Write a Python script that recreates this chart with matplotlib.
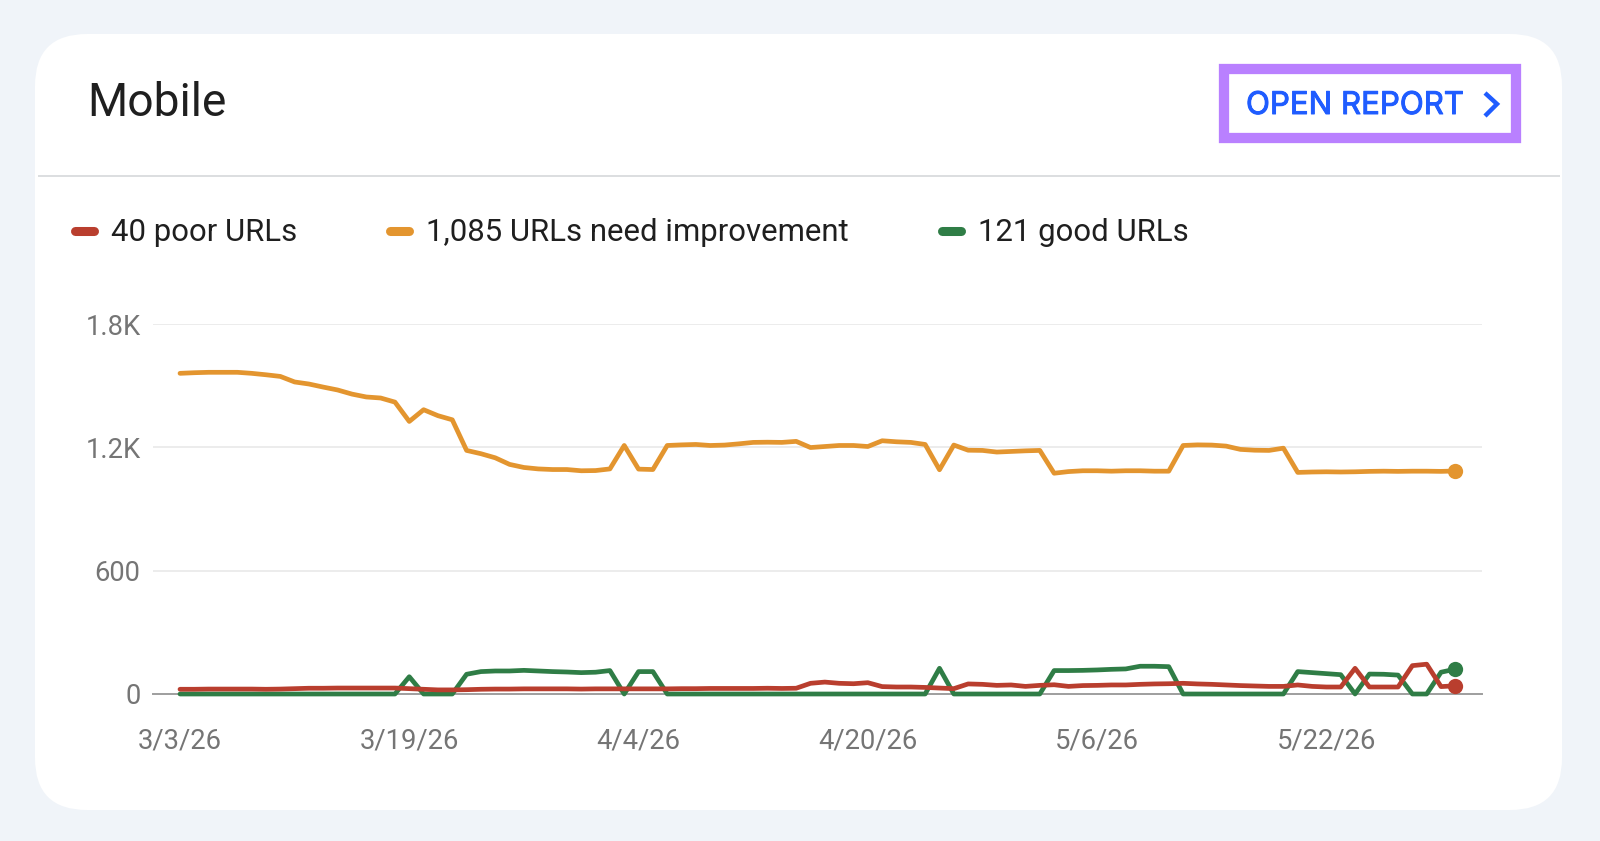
import matplotlib
matplotlib.use("Agg")
import matplotlib.pyplot as plt
import matplotlib.patheffects as pe
import pandas as pd
from matplotlib.patches import FancyBboxPatch, Rectangle

title = "Mobile"
button_label = "OPEN REPORT"
dates = pd.date_range("2026-03-03", periods=90)
tick_dates = pd.to_datetime(["2026-03-03", "2026-03-19", "2026-04-04", "2026-04-20", "2026-05-06", "2026-05-22"])
tick_labels = ["3/3/26", "3/19/26", "4/4/26", "4/20/26", "5/6/26", "5/22/26"]
y_ticks = [0, 600, 1200, 1800]
y_labels = ["0", "600", "1.2K", "1.8K"]
legend_labels = ["40 poor URLs", "1,085 URLs need improvement", "121 good URLs"]

need_improvement = [
    1560, 1563, 1565, 1565, 1565, 1560, 1553, 1545, 1518, 1508,
    1493, 1479, 1459, 1445, 1440, 1420, 1326, 1383, 1354, 1334,
    1185, 1169, 1149, 1117, 1102, 1095, 1092, 1092, 1086, 1087,
    1095, 1209, 1094, 1092, 1209, 1212, 1214, 1209, 1211, 1217,
    1224, 1225, 1224, 1229, 1199, 1204, 1209, 1209, 1204, 1232,
    1227, 1224, 1214, 1091, 1211, 1186, 1185, 1177, 1180, 1183,
    1185, 1074, 1082, 1086, 1086, 1084, 1086, 1086, 1084, 1084,
    1209, 1212, 1211, 1206, 1190, 1186, 1185, 1196, 1078, 1080,
    1081, 1080, 1081, 1083, 1084, 1083, 1084, 1084, 1083, 1085,
]
good = [
    0, 0, 0, 0, 0, 0, 0, 0, 0, 0,
    0, 0, 0, 0, 0, 0, 84, 0, 0, 0,
    96, 109, 112, 112, 115, 112, 109, 107, 104, 106,
    114, 0, 109, 109, 0, 0, 0, 0, 0, 0,
    0, 0, 0, 0, 0, 0, 0, 0, 0, 0,
    0, 0, 0, 125, 0, 0, 0, 0, 0, 0,
    0, 114, 114, 115, 117, 120, 122, 135, 135, 133,
    0, 0, 0, 0, 0, 0, 0, 0, 109, 104,
    99, 94, 0, 97, 96, 92, 0, 0, 106, 121,
]
poor = [
    23, 23, 24, 24, 24, 24, 23, 24, 26, 28,
    28, 29, 29, 29, 29, 29, 26, 23, 20, 20,
    21, 23, 24, 24, 25, 25, 25, 25, 24, 25,
    25, 25, 25, 25, 25, 26, 26, 27, 27, 27,
    27, 28, 27, 28, 52, 58, 52, 50, 55, 36,
    34, 34, 32, 29, 26, 49, 47, 42, 44, 37,
    42, 45, 37, 41, 42, 44, 44, 47, 49, 50,
    52, 49, 47, 44, 41, 39, 37, 37, 44, 37,
    34, 34, 125, 34, 34, 34, 138, 145, 36, 40,
]

RED = "#b93e2e"
ORANGE = "#e3952f"
GREEN = "#2f7d46"
BG = "#f0f4f9"
PURPLE = "#b980ff"
BLUE = "#1f5cff"
GRAY = "#757575"
DARK = "#1f1f1f"

plt.rcParams["font.family"] = ["Roboto", "DejaVu Sans"]
W, H = 1600, 841
fig = plt.figure(figsize=(W / 100, H / 100), dpi=100, facecolor=BG)

# Page furniture, in pixel coordinates
bg = fig.add_axes([0, 0, 1, 1])
bg.set_xlim(0, W)
bg.set_ylim(H, 0)
bg.axis("off")
r = 52
bg.add_patch(FancyBboxPatch((35 + r, 34 + r), 1527 - 2 * r, 776 - 2 * r,
                            boxstyle=f"round,pad={r},rounding_size={r}",
                            fc="white", ec="none"))
bg.plot([38, 1560], [175.5, 175.5], color="#dcdee0", lw=1.4, solid_capstyle="butt")
bg.text(87, 116, title, fontsize=33.2, color=DARK, va="baseline", ha="left")
bg.add_patch(Rectangle((1223.5, 69), 292.5, 69, fc="white", ec=PURPLE, lw=7.4))
bg.text(1246, 114, button_label, fontsize=22.5, color=BLUE, va="baseline", ha="left",
        family=["Inter", "DejaVu Sans"],
        path_effects=[pe.withStroke(linewidth=0.7, foreground=BLUE)])
bg.plot([1485, 1497, 1485], [93, 104, 116], color=BLUE, lw=3.2,
        solid_joinstyle="miter", solid_capstyle="butt")

for x0, x1, tx, col, lab in zip([75, 389.5, 942], [94, 408.5, 961], [111, 426.5, 977.5],
                                [RED, ORANGE, GREEN], legend_labels):
    bg.plot([x0, x1], [231, 231], color=col, lw=6.5, solid_capstyle="round")
    bg.text(tx, 240.5, lab, fontsize=22.4, color=DARK, va="baseline", ha="left")

# Chart
left, right, top, bottom = 153, 1482, 324, 694
ax = fig.add_axes([left / W, 1 - bottom / H, (right - left) / W, (bottom - top) / H])
ax.patch.set_alpha(0)
day = pd.Timedelta(days=1)
ax.set_xlim(dates[0] - day * (27 / 14.33), dates[0] + day * ((right - 180) / 14.33))
ax.set_ylim(0, 1800)
for s in ["top", "right", "left"]:
    ax.spines[s].set_visible(False)
ax.spines["bottom"].set_color("#9e9e9e")
ax.spines["bottom"].set_linewidth(1.4)
ax.spines["bottom"].set_zorder(1)
ax.set_yticks(y_ticks, y_labels)
ax.set_xticks(tick_dates, tick_labels)
ax.tick_params(axis="both", length=0, labelsize=19.7, labelcolor=GRAY)
ax.tick_params(axis="y", pad=9)
ax.tick_params(axis="x", pad=24)
ax.grid(axis="y", color="#ececec", lw=1.4)
ax.set_axisbelow(True)

for values, col in [(need_improvement, ORANGE), (good, GREEN), (poor, RED)]:
    ax.plot(dates, values, color=col, lw=3.4, solid_joinstyle="round",
            solid_capstyle="round", clip_on=False, zorder=3)
    ax.plot(dates[-1:], values[-1:], "o", color=col, ms=11, mew=0, clip_on=False, zorder=4)

fig.savefig("out.png", dpi=100, facecolor=BG)
